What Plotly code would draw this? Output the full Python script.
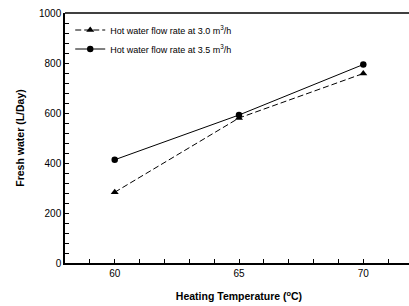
import plotly.graph_objects as go

temps = [60, 65, 70]
flow_30 = [283, 580, 758]
flow_35 = [413, 592, 794]
x_ticks = [60, 65, 70]
y_ticks = [0, 200, 400, 600, 800, 1000]

fig = go.Figure()
fig.add_trace(go.Scatter(
    x=temps, y=flow_30, mode="lines+markers",
    name="Hot water flow rate at 3.0 m<sup>3</sup>/h",
    line=dict(color="black", width=1, dash="6px,3px"),
    marker=dict(symbol="triangle-up", size=7, color="black"),
))
fig.add_trace(go.Scatter(
    x=temps, y=flow_35, mode="lines+markers",
    name="Hot water flow rate at 3.5 m<sup>3</sup>/h",
    line=dict(color="black", width=1),
    marker=dict(symbol="circle", size=6.5, color="black"),
))

font = "Liberation Sans, Arial, sans-serif"
fig.update_layout(
    width=413, height=306,
    margin=dict(l=65, r=0, t=13, b=43),
    paper_bgcolor="white", plot_bgcolor="white",
    font=dict(family=font, size=10, color="black"),
    showlegend=True,
    legend=dict(x=0.015, y=0.99, xanchor="left", yanchor="top",
                bgcolor="rgba(0,0,0,0)", font=dict(size=9),
                tracegroupgap=0, itemwidth=30),
    xaxis=dict(
        range=[58, 72], tickvals=x_ticks, ticks="inside", ticklen=4,
        tickcolor="black", showline=True, linecolor="black", linewidth=1.5,
        mirror=False, showgrid=False, zeroline=False,
        minor=dict(dtick=1, ticks="inside", ticklen=4, tickcolor="black", showgrid=False),
        title=dict(text="<b>Heating Temperature (<sup>o</sup>C)</b>", font=dict(size=10.5), standoff=15),
    ),
    yaxis=dict(
        range=[0, 1000], tickvals=y_ticks, ticks="inside", ticklen=4,
        tickcolor="black", showline=True, linecolor="black", linewidth=1.5,
        mirror=False, showgrid=False, zeroline=False,
        minor=dict(dtick=40, ticks="inside", ticklen=4, tickcolor="black", showgrid=False),
        title=dict(text="<b>Fresh water (L/Day)</b>", font=dict(size=10.5), standoff=12),
    ),
    shapes=[dict(type="line", xref="paper", yref="paper", x0=0, x1=1, y0=1, y1=1,
                 line=dict(color="black", width=1.5))],
)

fig.write_html(
    "out.html",
    config={"displayModeBar": False},
    post_script="document.body.style.margin='0';document.body.style.overflow='hidden';",
)
